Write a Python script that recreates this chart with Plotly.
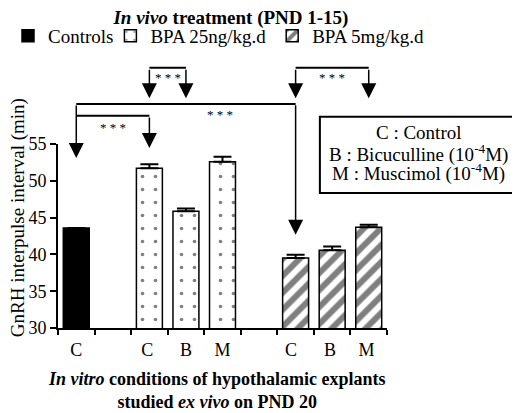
import plotly.graph_objects as go

# category slots on the x axis: 9 slots, two of them are empty gaps
categories = ["C", " ", "C ", "B", "M", "  ", "C  ", "B ", "M "]

ctrl_x = ["C"]
ctrl_y = [43.6]
ctrl_err = [0.0]

low_x = ["C ", "B", "M"]
low_y = [51.7, 45.85, 52.6]
low_err = [0.55, 0.37, 0.68]

high_x = ["C  ", "B ", "M "]
high_y = [39.5, 40.55, 43.7]
high_err = [0.45, 0.53, 0.32]

SERIF = "Liberation Serif"
BAR_W = 0.71
# the page body has an 8px margin, so the figure is drawn 8px smaller
W, H = 512, 405


def err(vals):
    return dict(type="data", array=vals, arrayminus=[0] * len(vals),
                symmetric=False, color="black", thickness=2, width=9)


fig = go.Figure()
fig.add_bar(x=ctrl_x, y=ctrl_y, name="Controls", width=BAR_W, legend="legend",
            showlegend=True,
            marker=dict(color="black", line=dict(color="black", width=1.5)),
            error_y=err(ctrl_err))
fig.add_bar(x=low_x, y=low_y, name="BPA 25ng/kg.d", width=BAR_W, legend="legend2",
            showlegend=True,
            marker=dict(color="white", line=dict(color="black", width=1.5),
                        pattern=dict(shape=".", fgcolor="black", bgcolor="white",
                                     size=13, solidity=0.06)),
            error_y=err(low_err))
fig.add_bar(x=high_x, y=high_y, name="BPA 5mg/kg.d", width=BAR_W, legend="legend3",
            showlegend=True,
            marker=dict(color="white", line=dict(color="black", width=1.5),
                        pattern=dict(shape="/", fgcolor="black", bgcolor="white",
                                     size=12, solidity=0.5)),
            error_y=err(high_err))

# significance brackets (x = category index, y in paper units)
line = dict(color="black", width=2)
shapes = [
    dict(type="line", xref="x", yref="paper", x0=2, x1=3, y0=1.414, y1=1.414, line=line),
    dict(type="line", xref="x", yref="paper", x0=6, x1=8, y0=1.414, y1=1.414, line=line),
    dict(type="line", xref="x", yref="paper", x0=0, x1=6, y0=1.217, y1=1.217, line=line),
    dict(type="line", xref="x", yref="paper", x0=0, x1=2, y0=1.153, y1=1.153, line=line),
    dict(type="rect", xref="paper", yref="paper", x0=0.796, x1=1.398,
         y0=0.734, y1=1.148, line=line, fillcolor="white"),
]

arrows = [
    (2, 1.249, -30), (3, 1.249, -30), (6, 1.249, -30), (8, 1.249, -30),
    (0, 0.924, -54), (2, 0.978, -32), (6, 0.507, -131),
]
annotations = []
for ax_x, tip, tail in arrows:
    annotations.append(dict(xref="x", yref="paper", x=ax_x, y=tip, ax=0, ay=tail,
                            text="", showarrow=True, arrowhead=2, arrowsize=2,
                            arrowwidth=1.5, arrowcolor="black", standoff=0))

stars = [(2.5, 1.363), (7.0, 1.363), (1.0, 1.087), (3.93, 1.163)]
for sx, sy in stars:
    annotations.append(dict(xref="x", yref="paper", x=sx, y=sy, text="* * *",
                            xanchor="center", yanchor="middle", showarrow=False,
                            font=dict(family=SERIF, size=13, color="black")))

box_lines = ["C : Control", "B : Bicuculline (10<sup>-4</sup>M)",
             "M : Muscimol (10<sup>-4</sup>M)"]
for txt, ty in zip(box_lines, [1.060, 0.951, 0.843]):
    annotations.append(dict(xref="paper", yref="paper", x=1.097, y=ty, text=txt,
                            xanchor="center", yanchor="middle", showarrow=False,
                            font=dict(family=SERIF, size=19, color="black")))

# axis titles
annotations.append(dict(xref="paper", yref="paper", x=0.483, y=-0.341,
                        text="<b><i>In vitro</i> conditions of hypothalamic explants"
                             "<br>studied <i>ex vivo</i> on PND 20</b>",
                        xanchor="center", yanchor="middle", showarrow=False,
                        font=dict(family=SERIF, size=18, color="black")))
annotations.append(dict(xref="paper", yref="paper", x=-0.121, y=0.598,
                        text="GnRH interpulse interval (min)", textangle=-90,
                        xanchor="center", yanchor="middle", showarrow=False,
                        font=dict(family=SERIF, size=19, color="black")))

leg = dict(orientation="h", xref="container", yref="container", xanchor="left",
           y=0.931, yanchor="middle", font=dict(family=SERIF, size=19),
           itemwidth=30, bgcolor="rgba(0,0,0,0)")

fig.update_layout(
    width=W, height=H,
    showlegend=True,
    margin=dict(l=50, r=133, t=136, b=85, autoexpand=False),
    paper_bgcolor="white", plot_bgcolor="white",
    font=dict(family=SERIF, color="black", size=18),
    barmode="overlay",
    title=dict(text="<b><i>In vivo</i> treatment (PND 1-15)</b>",
               x=0.4355, xanchor="center", y=0.978, yanchor="middle",
               font=dict(family=SERIF, size=19)),
    legend=dict(leg, x=0.0),
    legend2=dict(leg, x=0.2),
    legend3=dict(leg, x=0.516),
    shapes=shapes,
    annotations=annotations,
    xaxis=dict(type="category", categoryorder="array", categoryarray=categories,
               range=[-0.5, 8.5], tickson="boundaries",
               ticks="outside", ticklen=5, tickwidth=2, tickcolor="black",
               showline=True, linecolor="black", linewidth=2,
               showgrid=False, zeroline=False, ticklabelstandoff=4,
               tickfont=dict(family=SERIF, size=18)),
    yaxis=dict(range=[30, 55], tickvals=[30, 35, 40, 45, 50, 55],
               ticks="outside", ticklen=6, tickwidth=2, tickcolor="black",
               showline=True, linecolor="black", linewidth=2,
               showgrid=False, zeroline=False,
               tickfont=dict(family=SERIF, size=18)),
)

fig.write_html("out.html")
